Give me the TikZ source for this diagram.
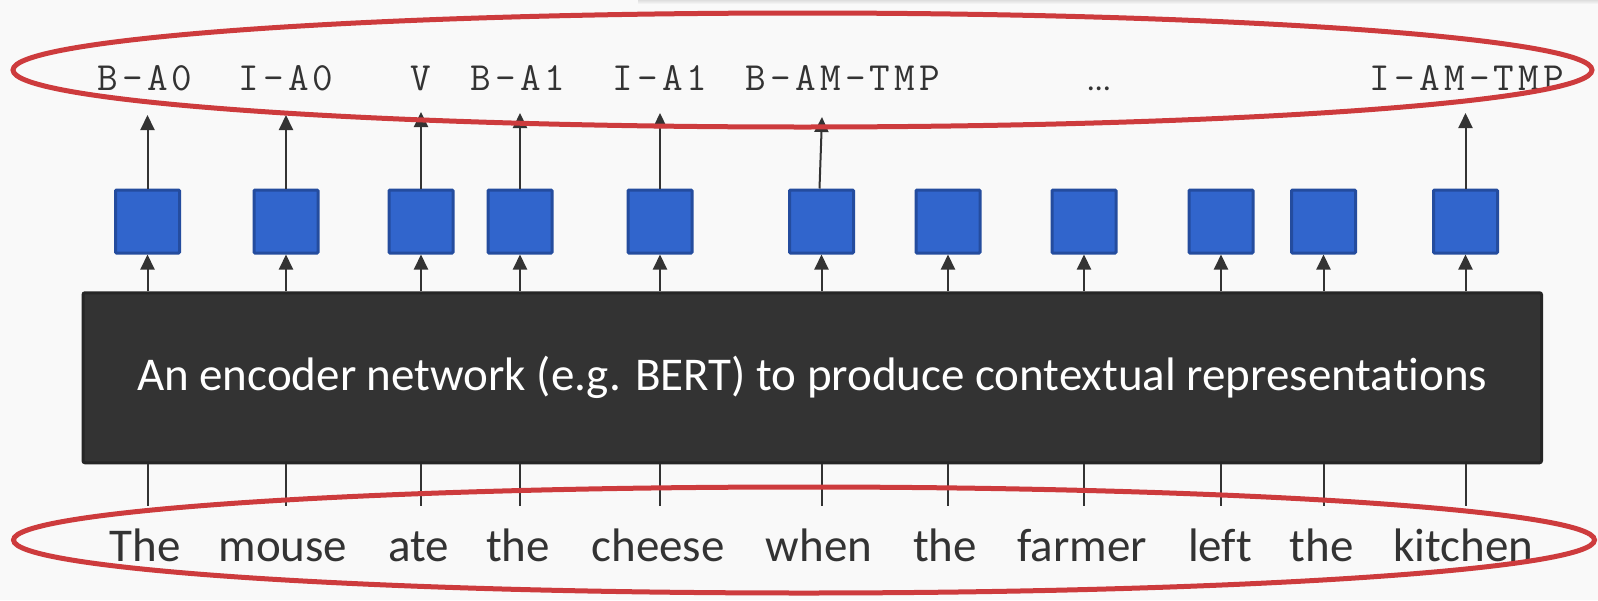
\documentclass[tikz,border=0pt]{standalone}
\usepackage{fontspec}
\usetikzlibrary{arrows.meta}
\newfontfamily\bodyfont{Carlito}[Ligatures=NoCommon]
\definecolor{bg}{HTML}{F9F9F9}
\definecolor{ink}{HTML}{333333}
\definecolor{encfill}{HTML}{333333}
\definecolor{encline}{HTML}{262626}
\definecolor{cellfill}{HTML}{3165CC}
\definecolor{cellline}{HTML}{244C9E}
\definecolor{ring}{HTML}{CD3B3D}
% typewriter text with extra tracking between letters
\makeatletter
\newcommand\trackedtext[1]{\@tfor\tr@ck:=#1\do{\tr@ck\kern4.2pt}\unkern}
\makeatother
\tikzset{
  cell/.style={draw=cellline, fill=cellfill, line width=3pt,
    minimum width=64pt, minimum height=63pt, inner sep=0pt, rounded corners=1pt},
  encoder/.style={draw=encline, fill=encfill, line width=3pt,
    minimum width=1458.5pt, minimum height=170pt, inner sep=0pt, rounded corners=2pt,
    text=white, font=\bodyfont\fontsize{47}{56}\selectfont},
  tag/.style={anchor=base, inner sep=0pt, text=ink,
    font=\ttfamily\fontsize{40}{48}\selectfont},
  word/.style={anchor=base, inner sep=0pt, text=ink,
    font=\bodyfont\fontsize{47}{56}\selectfont},
  up/.style={draw=ink, line width=2pt, -{Triangle[width=14pt,length=15pt]}},
  stem/.style={draw=ink, line width=2pt},
  oval/.style={draw=ring, line width=5pt}
}
\begin{document}
\begin{tikzpicture}[x=1pt,y=-1pt]
\useasboundingbox (0,0) rectangle (1598,600);
\fill[bg] (0,0) rectangle (1598,600);
\shade[top color=black!13, bottom color=bg] (638,0) rectangle (1598,4);

% encoder block
\node[encoder] (enc) at (812.25,377.75) {An encoder network (e.g. BERT) to produce contextual representations};

% one output cell per token
\foreach \i/\x in {1/147.5,2/286,3/421,4/520,5/660,6/821.5,7/948,8/1084,9/1221,10/1323.5,11/1465.5}
  \node[cell] (b\i) at (\x,221.5) {};

% encoder feeds every cell
\foreach \i in {1,...,11}
  \draw[up] (enc.north -| b\i) -- (b\i.south);

% input tokens and their stems into the encoder
\foreach \i/\x/\w in {1/145/The,2/283/mouse,3/419/ate,4/518/the,5/658/cheese,6/819/when,7/945/the,8/1082/farmer,9/1220/left,10/1321.5/the,11/1463.5/kitchen}{
  \node[word] (w\i) at (\x,561) {\w};
  \coordinate (s\i) at (b\i |- 0,506);
  \draw[stem] (enc.south -| s\i) -- (s\i);
}

% tag labels
\node[tag] (l1) at (145,90.7) {\trackedtext{B-A0}};
\node[tag] (l2) at (286,90.7) {\trackedtext{I-A0}};
\node[tag] (l3) at (421,90.7) {V};
\node[tag] (l4) at (518,90.7) {\trackedtext{B-A1}};
\node[tag] (l5) at (660,90.7) {\trackedtext{I-A1}};
\node[tag] (l6) at (843,90.7) {\trackedtext{B-AM-TMP}};
\node[anchor=base, inner sep=0pt, text=ink, font=\bodyfont\fontsize{32}{38}\selectfont] (l7) at (1099,90.7) {…};
\node[tag] (l8) at (1467,90.7) {\trackedtext{I-AM-TMP}};

% arrow ends below the labels
\coordinate (t1) at (147.5,115);
\coordinate (t2) at (286,115);
\coordinate (t3) at (421,112);
\coordinate (t4) at (520,113);
\coordinate (t5) at (660,113);
\coordinate (t6) at (822,117);
\coordinate (t11) at (1465.5,113);
\foreach \i in {1,2,3,4,5,11}
  \draw[up] (b\i.north) -- (t\i);
\draw[up] ([xshift=-2pt]b6.north) -- (t6);

% grouping ovals
\draw[oval] (802.5,70) ellipse [x radius=789.5pt, y radius=57pt];
\draw[oval] (804,540) ellipse [x radius=790.5pt, y radius=53pt];
\end{tikzpicture}
\end{document}
